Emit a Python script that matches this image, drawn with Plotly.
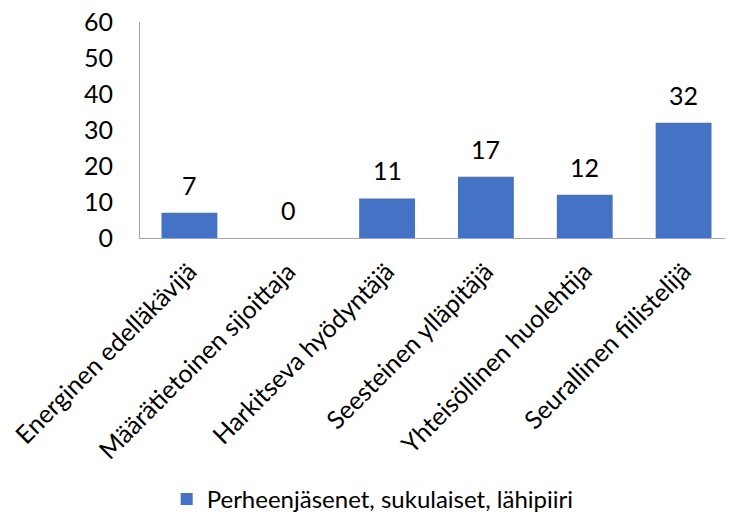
import plotly.graph_objects as go

categories = ["Energinen edelläkävijä", "Määrätietoinen sijoittaja", "Harkitseva hyödyntäjä",
              "Seesteinen ylläpitäjä", "Yhteisöllinen huolehtija", "Seurallinen fiilistelijä"]
values = [7, 0, 11, 17, 12, 32]
series_name = "Perheenjäsenet, sukulaiset, lähipiiri"
y_ticks = [0, 10, 20, 30, 40, 50, 60]

FONT = "Lato, Carlito, Calibri, sans-serif"

fig = go.Figure()
fig.add_trace(go.Bar(x=categories, y=values, name=series_name,
                     marker=dict(color="#4472C4", line=dict(width=0))))

for c, v in zip(categories, values):
    fig.add_annotation(x=c, y=v, text=str(v), showarrow=False, yanchor="bottom",
                       yshift=11, font=dict(family=FONT, size=25, color="#000000"))

# page body has an 8px margin; figure is sized to fill the rest of the window
fig.update_layout(
    width=725, height=514,
    margin=dict(l=132, r=0, t=14, b=283),
    plot_bgcolor="white", paper_bgcolor="white",
    bargap=0.435,
    showlegend=True,
    legend=dict(orientation="h", x=0.045, xanchor="left", y=-1.21, yanchor="middle",
                font=dict(family=FONT, size=24, color="#000000")),
    font=dict(family=FONT, color="#000000"),
)
fig.update_xaxes(tickangle=-45, tickfont=dict(family=FONT, size=25, color="#000000"),
                 showline=True, linecolor="#A6A6A6", linewidth=1, ticks="", showgrid=False,
                 automargin=False, ticklabelstandoff=8, ticklabeloverflow="allow")
fig.update_yaxes(range=[0, 60], tickvals=y_ticks, tickfont=dict(family=FONT, size=25, color="#000000"),
                 showline=True, linecolor="#A6A6A6", linewidth=1, ticks="", showgrid=False,
                 zeroline=False, ticklabelstandoff=21, automargin=False, ticklabeloverflow="allow")

fig.write_html("out.html")
